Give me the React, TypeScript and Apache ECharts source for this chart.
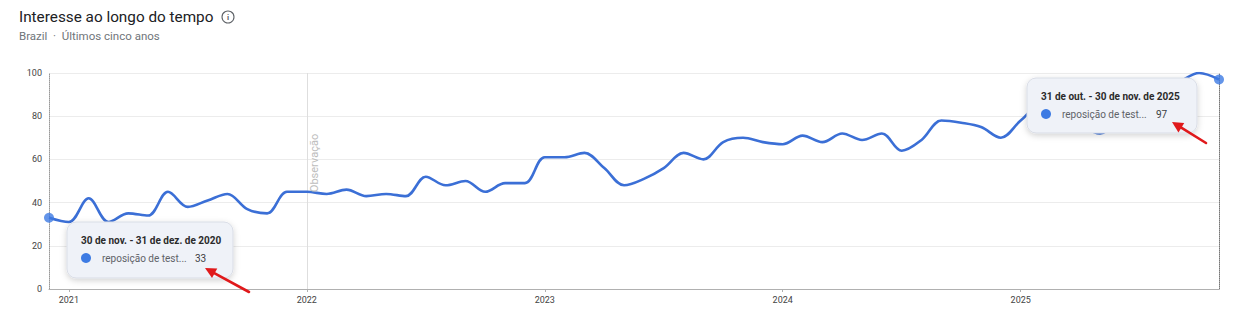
import React, { useEffect, useRef } from "react";
import * as echarts from "echarts";

// ---- data ----
const months: string[] = [
  "2020-12",
  "2021-01", "2021-02", "2021-03", "2021-04", "2021-05", "2021-06", "2021-07", "2021-08", "2021-09", "2021-10", "2021-11", "2021-12",
  "2022-01", "2022-02", "2022-03", "2022-04", "2022-05", "2022-06", "2022-07", "2022-08", "2022-09", "2022-10", "2022-11", "2022-12",
  "2023-01", "2023-02", "2023-03", "2023-04", "2023-05", "2023-06", "2023-07", "2023-08", "2023-09", "2023-10", "2023-11", "2023-12",
  "2024-01", "2024-02", "2024-03", "2024-04", "2024-05", "2024-06", "2024-07", "2024-08", "2024-09", "2024-10", "2024-11", "2024-12",
  "2025-01", "2025-02", "2025-03", "2025-04", "2025-05", "2025-06", "2025-07", "2025-08", "2025-09", "2025-10", "2025-11",
];

const interest: number[] = [
  33, 31, 42, 31, 35, 34, 45, 38, 41, 44, 37, 35, 45,
  45, 44, 46, 43, 44, 43, 52, 48, 50, 45, 49, 49,
  61, 61, 63, 56, 48, 51, 56, 63, 60, 68, 70, 68,
  67, 71, 68, 72, 69, 72, 64, 69, 78, 77, 75, 70,
  78, 85, 82, 76, 72, 79, 86, 92, 96, 100, 97,
];

const yTicks: number[] = [0, 20, 40, 60, 80, 100];
const observationMonth = "2022-01";

const titleText = "Interesse ao longo do tempo";
const subtitleText = "Brazil  \u00b7  \u00daltimos cinco anos";
const seriesLabel = "reposi\u00e7\u00e3o de test...";
const firstTipTitle = "30 de nov. - 31 de dez. de 2020";
const lastTipTitle = "31 de out. - 30 de nov. de 2025";

const FONT = "Roboto, Arial, sans-serif";
const BLUE = "#3b6fd6";
const DOT = "#3d7be3";
const TOP = 200;

function arrow(tail: [number, number], tip: [number, number]) {
  const dx = tip[0] - tail[0];
  const dy = tip[1] - tail[1];
  const len = Math.sqrt(dx * dx + dy * dy);
  const ux = dx / len;
  const uy = dy / len;
  const hl = 11;
  const hw = 5.5;
  const bx = tip[0] - ux * hl;
  const by = tip[1] - uy * hl;
  const px = -uy;
  const py = ux;
  return [
    {
      type: "line",
      shape: { x1: tail[0], y1: tail[1], x2: bx + ux * 2, y2: by + uy * 2 },
      style: { stroke: "#e0191b", lineWidth: 2.6, lineCap: "round" },
      z: TOP + 10,
    },
    {
      type: "polygon",
      shape: {
        points: [
          [tip[0], tip[1]],
          [bx + px * hw, by + py * hw],
          [bx - px * hw, by - py * hw],
        ],
      },
      style: { fill: "#e0191b" },
      z: TOP + 10,
    },
  ];
}

function tipBox(x: number, y: number, w: number, h: number, title: string, value: number, valueX: number) {
  return [
    {
      type: "rect",
      x,
      y,
      z: TOP,
      shape: { x: 0, y: 0, width: w, height: h, r: 9 },
      style: {
        fill: "#eff2f8",
        stroke: "#d9dde6",
        lineWidth: 1,
        shadowBlur: 6,
        shadowOffsetY: 2,
        shadowColor: "rgba(0,0,0,0.18)",
      },
    },
    {
      type: "text",
      x: x + 14,
      y: y + 18,
      z: TOP + 1,
      style: {
        text: title,
        font: `bold 10px ${FONT}`,
        fill: "#2b2b2b",
        textVerticalAlign: "middle",
      },
    },
    {
      type: "circle",
      z: TOP + 1,
      shape: { cx: x + 19, cy: y + 36, r: 5 },
      style: { fill: DOT },
    },
    {
      type: "text",
      x: x + 35,
      y: y + 36,
      z: TOP + 1,
      style: {
        text: seriesLabel,
        font: `10px ${FONT}`,
        fill: "#5f6368",
        textVerticalAlign: "middle",
      },
    },
    {
      type: "text",
      x: x + valueX,
      y: y + 36,
      z: TOP + 1,
      style: {
        text: String(value),
        font: `10px ${FONT}`,
        fill: "#3c4043",
        textVerticalAlign: "middle",
      },
    },
  ];
}

export default function App() {
  const ref = useRef<HTMLDivElement>(null);

  useEffect(() => {
    document.body.style.margin = "0";
    if (!ref.current) return;
    const chart = echarts.init(ref.current, null, { renderer: "svg" });
    const lastIdx = interest.length - 1;
    const isJan = (_i: number, v: string) => v.endsWith("-01");

    chart.setOption({
      animation: false,
      backgroundColor: "#ffffff",
      textStyle: { fontFamily: FONT },
      grid: { left: 49, right: 24, top: 73, bottom: 33, containLabel: false },
      xAxis: {
        type: "category",
        data: months,
        boundaryGap: false,
        axisLine: { show: true, lineStyle: { color: "#b0b0b0", width: 1 } },
        axisTick: {
          show: true,
          interval: isJan,
          length: 3,
          lineStyle: { color: "#b0b0b0" },
        },
        axisLabel: {
          interval: isJan,
          formatter: (v: string) => v.slice(0, 4),
          color: "#444",
          fontSize: 9,
          margin: 6,
          fontFamily: FONT,
        },
        splitLine: { show: false },
      },
      yAxis: [
        {
          type: "value",
          min: yTicks[0],
          max: yTicks[yTicks.length - 1],
          interval: 20,
          axisLine: { show: true, lineStyle: { color: "#999", type: "dotted", width: 1 } },
          axisTick: { show: false },
          axisLabel: { color: "#444", fontSize: 9, margin: 7, fontFamily: FONT },
          splitLine: { show: true, lineStyle: { color: "#ececec", width: 1 } },
        },
        {
          type: "value",
          position: "right",
          min: yTicks[0],
          max: yTicks[yTicks.length - 1],
          interval: 20,
          axisLine: { show: true, lineStyle: { color: "#777", type: "dotted", width: 1 } },
          axisTick: { show: false },
          axisLabel: { show: false },
          splitLine: { show: false },
        },
      ],
      series: [
        {
          type: "line",
          data: interest,
          smooth: 0.35,
          showSymbol: false,
          lineStyle: { color: BLUE, width: 2.6 },
          itemStyle: { color: BLUE },
          z: 5,
          markLine: {
            silent: true,
            symbol: ["none", "none"],
            label: { show: false },
            lineStyle: { color: "#dedede", type: "solid", width: 1 },
            data: [{ xAxis: observationMonth }],
            z: 1,
          },
        },
        {
          type: "scatter",
          data: [
            [months[0], interest[0]],
            [months[lastIdx], interest[lastIdx]],
          ],
          symbol: "circle",
          symbolSize: 10,
          itemStyle: { color: DOT },
          z: 6,
        },
      ],
      graphic: [
        {
          type: "text",
          x: 19,
          y: 17,
          style: {
            text: titleText,
            font: `15.3px ${FONT}`,
            fill: "#202124",
            textVerticalAlign: "middle",
          },
        },
        {
          type: "circle",
          shape: { cx: 228, cy: 17, r: 6 },
          style: { fill: "none", stroke: "#5f6368", lineWidth: 1.1 },
        },
        {
          type: "text",
          x: 228,
          y: 17.5,
          style: {
            text: "i",
            font: `bold 8px ${FONT}`,
            fill: "#5f6368",
            textAlign: "center",
            textVerticalAlign: "middle",
          },
        },
        {
          type: "text",
          x: 19,
          y: 36,
          style: {
            text: subtitleText,
            font: `11.5px ${FONT}`,
            fill: "#70757a",
            textVerticalAlign: "middle",
          },
        },
        {
          type: "text",
          x: 314,
          y: 163,
          rotation: Math.PI / 2,
          style: {
            text: "Observa\u00e7\u00e3o",
            font: `11px ${FONT}`,
            fill: "#bdbdbd",
            textAlign: "center",
            textVerticalAlign: "middle",
          },
          z: 50,
        },
        ...tipBox(67, 222, 166, 56, firstTipTitle, interest[0], 128),
        ...tipBox(1027, 78, 170, 55, lastTipTitle, interest[lastIdx], 129),
        ...arrow([249, 292], [205, 268]),
        ...arrow([1206, 143], [1172, 122]),
      ],
    });

    return () => {
      chart.dispose();
    };
  }, []);

  return <div ref={ref} style={{ width: 1243, height: 322 }} />;
}
